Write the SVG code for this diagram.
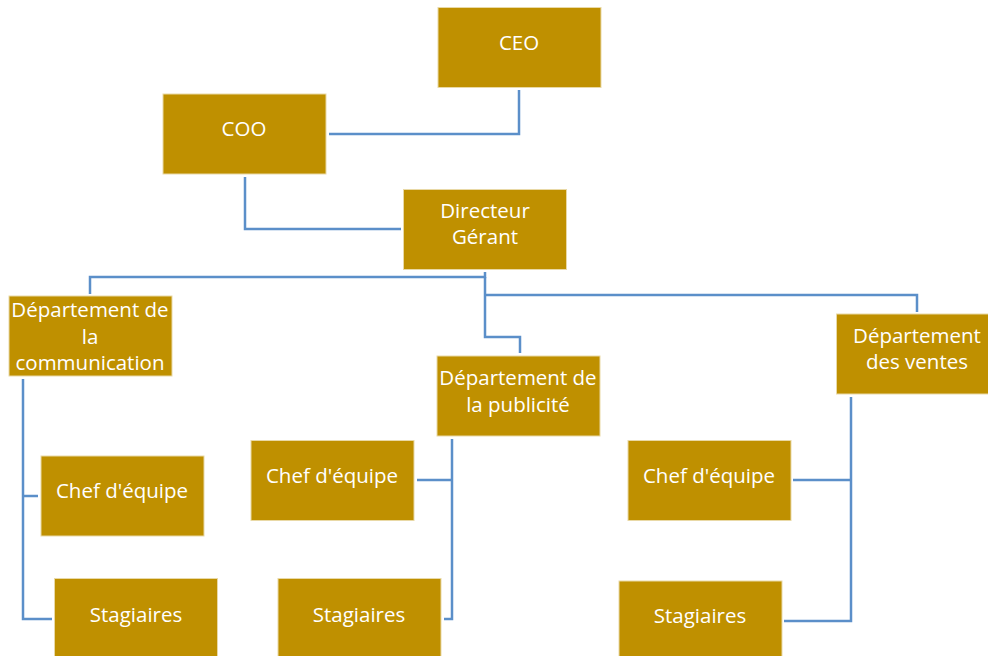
<svg xmlns="http://www.w3.org/2000/svg" width="988" height="656" viewBox="0 0 988 656">
<style>
.box{fill:#BF9000;stroke:#E9D9A6;stroke-width:1}
.t{font-family:"Open Sans","Liberation Sans",sans-serif;font-size:20.5px;fill:#FFFFFF;text-anchor:middle}
.c{fill:none;stroke:#5B8FC9;stroke-width:2.5}
</style>
<rect width="988" height="656" fill="#FFFFFF"/>
<g id="connectors">
<path class="c" d="M519,90 V134 H329"/>
<path class="c" d="M245,177 V229 H401"/>
<path class="c" d="M90,294 V277 H485 V272"/>
<path class="c" d="M485,277 V337 H520 V353"/>
<path class="c" d="M485,295 H917 V312"/>
<path class="c" d="M23,379 V619 H52 M23,496 H38"/>
<path class="c" d="M452,439 V619 H444 M452,480 H417"/>
<path class="c" d="M851,397 V621 H784 M851,480 H793"/>
</g>
<g id="ceo"><rect class="box" x="438" y="7.5" width="163" height="80"/><text class="t" x="519" y="50">CEO</text></g>
<g id="coo"><rect class="box" x="163" y="94" width="163" height="80"/><text class="t" x="244" y="136">COO</text></g>
<g id="directeur"><rect class="box" x="403.5" y="189.5" width="163" height="80"/><text class="t" x="485" y="218">Directeur</text><text class="t" x="485" y="243.5">Gérant</text></g>
<g id="dept-communication"><rect class="box" x="9" y="296" width="163" height="80"/><text class="t" x="90" y="317">Département de</text><text class="t" x="90" y="343.5">la</text><text class="t" x="90" y="370">communication</text></g>
<g id="dept-publicite"><rect class="box" x="437" y="356" width="163" height="80"/><text class="t" x="518" y="385">Département de</text><text class="t" x="518" y="411.5">la publicité</text></g>
<g id="dept-ventes"><rect class="box" x="836.5" y="314" width="163" height="80"/><text class="t" x="917" y="343">Département</text><text class="t" x="917" y="369">des ventes</text></g>
<g id="chef-1"><rect class="box" x="41" y="456" width="163" height="80"/><text class="t" x="122" y="498">Chef d'équipe</text></g>
<g id="stagiaires-1"><rect class="box" x="54.5" y="578.5" width="163" height="80"/><text class="t" x="136" y="621.5">Stagiaires</text></g>
<g id="chef-2"><rect class="box" x="251" y="440.5" width="163" height="80"/><text class="t" x="332" y="483">Chef d'équipe</text></g>
<g id="stagiaires-2"><rect class="box" x="278" y="578.5" width="163" height="80"/><text class="t" x="359" y="621.5">Stagiaires</text></g>
<g id="chef-3"><rect class="box" x="628" y="440.5" width="163" height="80"/><text class="t" x="709" y="483">Chef d'équipe</text></g>
<g id="stagiaires-3"><rect class="box" x="619" y="581" width="163" height="80"/><text class="t" x="700" y="623">Stagiaires</text></g>
</svg>
